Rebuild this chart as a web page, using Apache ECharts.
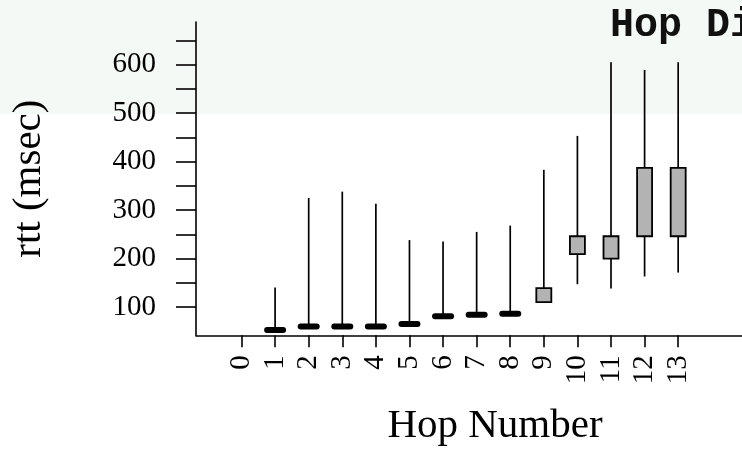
<!DOCTYPE html>
<html>
<head>
<meta charset="utf-8">
<script src="https://cdn.jsdelivr.net/npm/echarts@6/dist/echarts.min.js"></script>
<style>html,body{margin:0;padding:0;background:#fff}#c{width:742px;height:450px}</style>
</head>
<body>
<div id="c"></div>
<script>
// ---- data ----
var hops     = [0, 1, 2, 3, 4, 5, 6, 7, 8, 9, 10, 11, 12, 13];
var lowVals  = [null, 50, 58, 58, 58, 63, 79, 82, 84, 110, 147, 138, 163, 171];
var q1Vals   = [null, 51, 59, 59, 59, 64, 80, 83, 85, 110, 209, 200, 246, 246];
var q3Vals   = [null, 54, 61, 61, 61, 66, 82, 85, 87, 139, 246, 246, 387, 387];
var highVals = [null, 140, 325, 338, 313, 238, 235, 255, 268, 383, 453, 605, 589, 605];
var yTickValues  = [100, 150, 200, 250, 300, 350, 400, 450, 500, 550, 600, 650];
var yLabelValues = [100, 200, 300, 400, 500, 600];
var xTickValues  = hops;

var seriesData = hops.map(function (h, i) {
  return [h, lowVals[i], q1Vals[i], q3Vals[i], highVals[i]];
});

var chart = echarts.init(document.getElementById('c'), null, {renderer: 'canvas'});
var serif = '"Liberation Serif", "Times New Roman", serif';

chart.setOption({
  animation: false,
  backgroundColor: '#ffffff',
  title: {
    text: 'Hop Distribution',
    left: 605,
    top: 1,
    textStyle: {fontFamily: '"Liberation Mono", "Courier New", monospace', fontWeight: 'bold', fontSize: 40, color: '#111'}
  },
  graphic: [{
    type: 'rect', z: -100, silent: true,
    shape: {x: 0, y: 0, width: 742, height: 114},
    style: {fill: '#f5f9f5'}
  }],
  grid: {left: 196, right: 0, top: 22, bottom: 114.7, containLabel: false, outerBoundsMode: 'none'},
  xAxis: {
    type: 'value',
    min: -1.355,
    max: 14.9,
    name: 'Hop Number',
    nameLocation: 'middle',
    nameGap: 70,
    nameTextStyle: {fontFamily: serif, fontSize: 41, color: '#000', padding: [0, 0, 0, 52]},
    splitLine: {show: false},
    axisLine: {show: true, onZero: false, lineStyle: {color: '#000', width: 1.6}},
    axisTick: {show: true, inside: false, length: 12, customValues: xTickValues, lineStyle: {color: '#000', width: 1.6}},
    axisLabel: {
      customValues: xTickValues, rotate: 90, margin: 20,
      fontFamily: serif, fontSize: 29, color: '#000',
      formatter: function (v) { return String(Math.round(v)); }
    }
  },
  yAxis: {
    type: 'value',
    min: 41.6,
    max: 688,
    name: 'rtt (msec)',
    nameLocation: 'middle',
    nameGap: 146,
    nameTextStyle: {fontFamily: serif, fontSize: 41, color: '#000'},
    splitLine: {show: false},
    axisLine: {show: true, onZero: false, lineStyle: {color: '#000', width: 1.6}},
    axisTick: {show: true, inside: false, length: 20, customValues: yTickValues, lineStyle: {color: '#000', width: 1.6}},
    axisLabel: {
      customValues: yLabelValues, margin: 40,
      fontFamily: serif, fontSize: 29, color: '#000',
      formatter: function (v) { return String(Math.round(v)); }
    }
  },
  series: [{
    type: 'custom',
    clip: false,
    data: seriesData,
    encode: {x: 0, y: [1, 2, 3, 4]},
    renderItem: function (params, api) {
      var x = api.value(0);
      var lo = api.value(1), q1 = api.value(2), q3 = api.value(3), hi = api.value(4);
      if (lo == null || isNaN(lo)) return null;
      var pLo = api.coord([x, lo]), pHi = api.coord([x, hi]);
      var pQ1 = api.coord([x, q1]), pQ3 = api.coord([x, q3]);
      var boxW = 15;
      var children = [{
        type: 'line',
        shape: {x1: pLo[0], y1: pLo[1], x2: pHi[0], y2: pHi[1]},
        style: {stroke: '#000', lineWidth: 1.7}
      }];
      var h = Math.abs(pQ1[1] - pQ3[1]);
      if (h < 4) {
        var ym = (pQ1[1] + pQ3[1]) / 2;
        children.push({
          type: 'line',
          shape: {x1: pQ1[0] - 8, y1: ym, x2: pQ1[0] + 8, y2: ym},
          style: {stroke: '#000', lineWidth: 6, lineCap: 'round'}
        });
      } else {
        children.push({
          type: 'rect',
          shape: {x: pQ1[0] - boxW / 2, y: Math.min(pQ1[1], pQ3[1]), width: boxW, height: h},
          style: {fill: '#b3b3b3', stroke: '#000', lineWidth: 1.8}
        });
      }
      return {type: 'group', children: children};
    }
  }]
});
</script>
</body>
</html>
